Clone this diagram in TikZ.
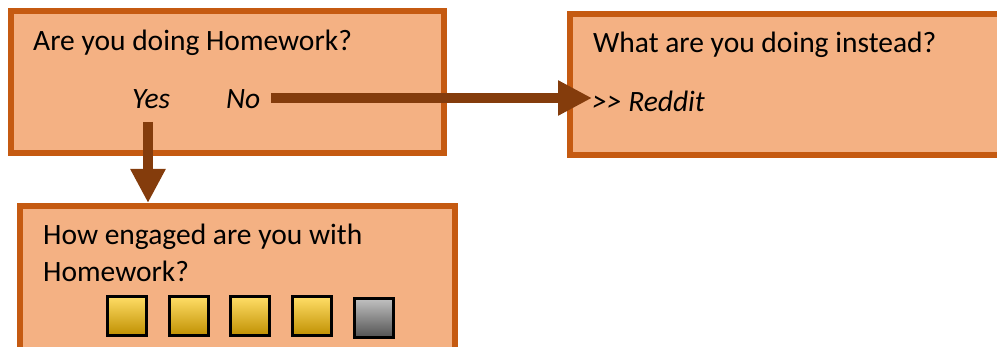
\documentclass[tikz,border=0pt]{standalone}
\usepackage{fontspec}
\setmainfont{Carlito}
\usetikzlibrary{arrows.meta}
\definecolor{boxfill}{HTML}{F4B183}
\definecolor{boxline}{HTML}{C55A11}
\definecolor{arrcol}{HTML}{843C0C}
\definecolor{goldtop}{HTML}{FFDD66}
\definecolor{goldmid}{HTML}{FFC000}
\definecolor{goldbot}{HTML}{BF8F00}
\definecolor{graytop}{HTML}{C0C0C0}
\definecolor{graybot}{HTML}{505050}
\tikzset{
  qbox/.style={draw=boxline, fill=boxfill, line width=6pt, rectangle, inner sep=0pt},
  txt/.style={anchor=base west, inner sep=0pt, font=\fontsize{29.5}{34}\selectfont},
  arr/.style={draw=arrcol, line width=10pt, -{Triangle[width=33pt,length=34pt]}, arrcol},
  goldsq/.style={draw=black, line width=3pt, minimum size=39pt, inner sep=0pt, shading=axis, top color=goldtop, middle color=goldmid, bottom color=goldbot},
  graysq/.style={draw=black, line width=3pt, minimum size=39pt, inner sep=0pt, shading=axis, top color=graytop, bottom color=graybot},
}
\begin{document}
\begin{tikzpicture}[x=1pt,y=-1pt]
\useasboundingbox (0,0) rectangle (997,347);
\clip (0,0) rectangle (997,347);
% boxes
\node[qbox, minimum width=433pt, minimum height=142pt] (box1) at (227.5,82) {};
\node[qbox, minimum width=440pt, minimum height=141pt] (box2) at (790,84.5) {};
\node[qbox, minimum width=435pt, minimum height=164pt] (box3) at (237.5,288) {};
% texts
\node[txt] (q1) at (33,51) {Are you doing Homework?};
\node[txt] (yes) at (132,109) {\itshape Yes};
\node[txt] (no) at (226,109) {\itshape No};
\node[txt] (q2) at (593,53) {What are you doing instead?};
\node[txt] (reddit) at (592,112) {\itshape >{}> Reddit};
\node[txt] (q3a) at (43,245) {How engaged are you with};
\node[txt] (q3b) at (43,282) {Homework?};
% squares
\node[goldsq] (s1) at (127,316) {};
\node[goldsq] (s2) at (188.5,316.5) {};
\node[goldsq] (s3) at (250,316.5) {};
\node[goldsq] (s4) at (312,316.5) {};
\node[graysq] (s5) at (374,318.5) {};
% arrows
\coordinate (yesstart) at (148,122);
\coordinate (nostart) at (271,98);
\draw[arr] (yesstart) -- (yesstart |- box3.north);
\draw[arr] (nostart) -- (nostart -| reddit.west);
\end{tikzpicture}
\end{document}
